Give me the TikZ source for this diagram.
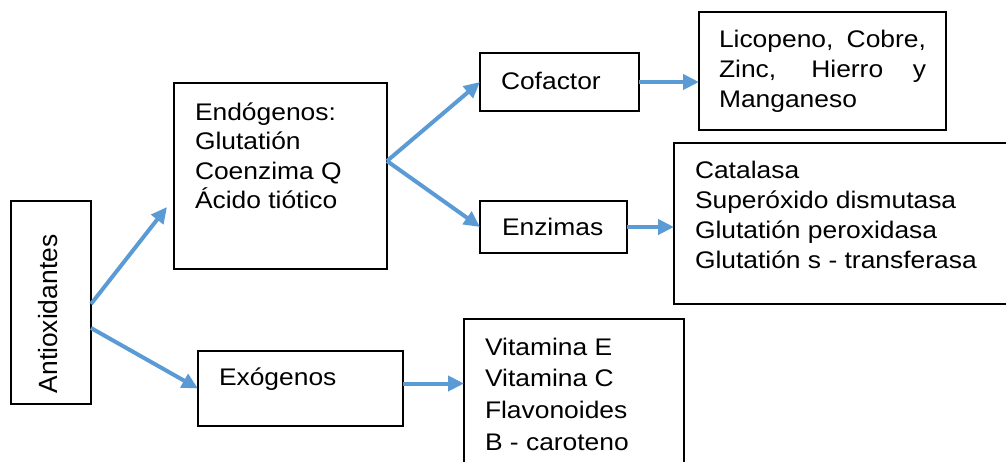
\documentclass[tikz,border=0pt]{standalone}
\usepackage{fontspec}
\setmainfont{Liberation Sans}[FakeStretch=1.1]
\newfontfamily\uprightfam{Liberation Sans}
\usetikzlibrary{arrows.meta,calc}
\definecolor{arrowblue}{HTML}{5B9BD5}

\tikzset{
  box/.style={draw=black, line width=1.3pt, rectangle, inner sep=0pt, outer sep=0pt},
  label/.style={anchor=base west, inner sep=0pt, outer sep=0pt, font=\fontsize{24}{30}\selectfont},
  link/.style={draw=arrowblue, line width=4pt, -{Triangle[length=16pt,width=15pt]}}
}
\newcommand{\boxlines}[2]{\parbox[t]{#1}{\raggedright #2}}

\begin{document}
\begin{tikzpicture}[x=1pt, y=-1pt]
  \path[use as bounding box, clip] (0,0) rectangle (1006,461);

  % boxes
  \node[box, minimum width=80pt,  minimum height=203pt] (anti) at (51,302.5) {};
  \node[box, minimum width=213pt, minimum height=186pt] (endo) at (280.5,176) {};
  \node[box, minimum width=205pt, minimum height=75pt]  (exo)  at (300.5,388.5) {};
  \node[box, minimum width=159pt, minimum height=58pt]  (cof)  at (559.5,82) {};
  \node[box, minimum width=147pt, minimum height=52pt]  (enz)  at (553.5,227) {};
  \node[box, minimum width=247pt, minimum height=118pt] (lic)  at (822.5,71) {};
  \node[box, minimum width=356pt, minimum height=161pt] (cat)  at (852,223.5) {};
  \node[box, minimum width=220pt, minimum height=161pt] (vit)  at (574,399.5) {};

  % texts
  \node[rotate=90, anchor=base, inner sep=0pt, font=\uprightfam\fontsize{26.4}{30}\selectfont]
    (antiT) at (57,314) {Antioxidantes};
  \node[label, font=\fontsize{24}{29.5}\selectfont] (endoT) at (195,120)
    {\boxlines{190pt}{Endógenos:\\Glutatión\\Coenzima Q\\Ácido tiótico}};
  \node[label] (exoT) at (219,385) {Exógenos};
  \node[label] (cofT) at (501,89) {Cofactor};
  \node[label] (enzT) at (502,235) {Enzimas};
  \node[label] (licT) at (719,47)
    {\boxlines{207pt}{\makebox[207pt][s]{Licopeno, Cobre,}\\\makebox[207pt][s]{Zinc, Hierro y}\\Manganeso}};
  \node[label] (catT) at (695,178)
    {\boxlines{300pt}{Catalasa\\Superóxido dismutasa\\Glutatión peroxidasa\\Glutatión s - transferasa}};
  \node[label, font=\fontsize{24}{31.7}\selectfont] (vitT) at (485,355)
    {\boxlines{190pt}{Vitamina E\\Vitamina C\\Flavonoides\\B - caroteno}};

  % connectors
  \draw[link] ($(anti.east)+(0,1.5)$) -- ($(endo.west)+(-7,31)$);
  \draw[link] ($(anti.east)+(0,25.5)$) -- (exo.west);
  \draw[link] ($(endo.east)+(0,-15)$) -- (cof.west);
  \draw[link] ($(endo.east)+(0,-15)$) -- (enz.west);
  \draw[link] (cof.east) -- (cof.east -| lic.west);
  \draw[link] (enz.east) -- (enz.east -| cat.west);
  \draw[link] ($(exo.east)+(0,-5)$) -- ($(exo.east -| vit.west)+(0,-5)$);
\end{tikzpicture}
\end{document}
